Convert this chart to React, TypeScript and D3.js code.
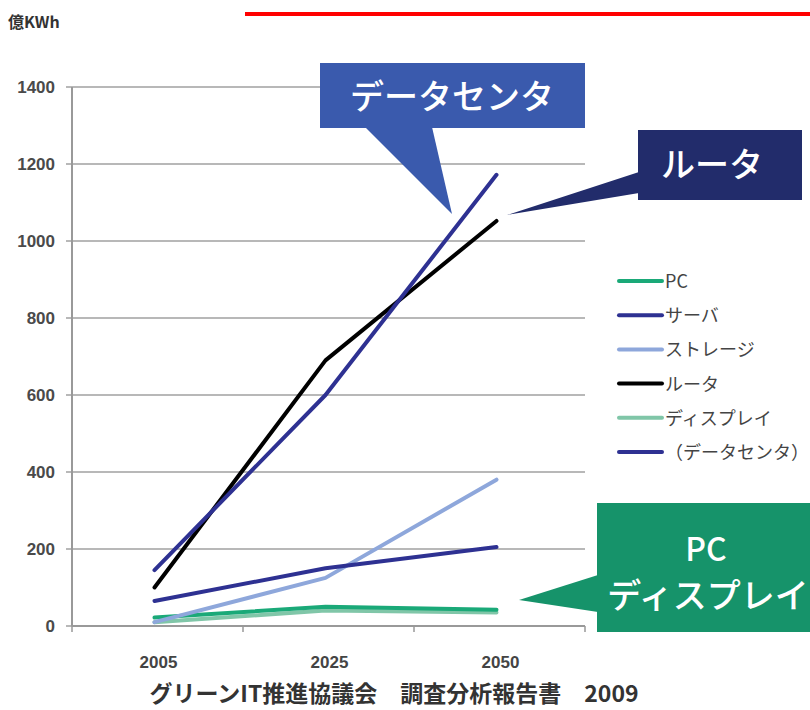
import React from "react";
import * as d3 from "d3";

const years = ["2005", "2025", "2050"];
const yTicks = [0, 200, 400, 600, 800, 1000, 1200, 1400];
const pcValues = [22, 50, 42];
const serverValues = [65, 150, 205];
const storageValues = [10, 125, 380];
const routerValues = [100, 690, 1052];
const displayValues = [10, 40, 35];
const dataCenterValues = [145, 600, 1172];
const seriesNames = ["PC", "サーバ", "ストレージ", "ルータ", "ディスプレイ", "（データセンタ）"];
const seriesColors = ["#1aa978", "#2e3192", "#8ea7db", "#000000", "#80c6a8", "#2e3192"];

export default function App() {
  const W = 810, H = 710;
  const x = d3.scaleBand<string>().domain(years).range([72, 585]);
  const y = d3.scaleLinear().domain([0, 1400]).range([626, 87]);
  const cx = (d: string) => (x(d) as number) + x.bandwidth() / 2;
  const line = d3.line<number>().x((_, i) => cx(years[i]) - 3).y((v) => y(v));
  const seriesData = [pcValues, serverValues, storageValues, routerValues, displayValues, dataCenterValues];
  const drawOrder = [4, 0, 2, 1, 3, 5];
  const nfont = "'Liberation Sans Narrow', 'Liberation Sans', sans-serif";
  const jfont = "'Noto Sans CJK JP', sans-serif";
  const tickXs = [72, ...years.slice(1).map((d) => x(d) as number), 585];
  return (
    <svg width={W} height={H} style={{ position: "absolute", left: 0, top: 0, background: "#fff" }}>
      <rect x={0} y={0} width={W} height={H} fill="#fff" />
      <rect x={245} y={12} width={565} height={4} fill="#ff0000" />
      <text x={8} y={28} fontFamily={jfont} fontSize={16} fontWeight={700} fill="#333">億KWh</text>
      {yTicks.map((t) => (
        <g key={t}>
          <line x1={66} x2={585} y1={y(t)} y2={y(t)} stroke="#a0a0a0" strokeWidth={1.5} />
          <text x={55} y={y(t) + 6} textAnchor="end" fontFamily={nfont} fontSize={17} fontWeight={700} fill="#4a4a4a">{t}</text>
        </g>
      ))}
      <line x1={72} x2={72} y1={87} y2={626} stroke="#999" strokeWidth={2} />
      <line x1={72} x2={585} y1={626} y2={626} stroke="#999" strokeWidth={2} />
      {tickXs.map((tx, i) => (
        <line key={i} x1={tx} x2={tx} y1={626} y2={632} stroke="#999" strokeWidth={1.5} />
      ))}
      {years.map((d) => (
        <text key={d} x={cx(d) + 1} y={668} textAnchor="middle" fontFamily={nfont} fontSize={17} fontWeight={700} fill="#444">{d}</text>
      ))}
      {drawOrder.map((i) => (
        <path key={i} d={line(seriesData[i]) || ""} fill="none" stroke={seriesColors[i]} strokeWidth={4} strokeLinecap="round" strokeLinejoin="round" />
      ))}
      {seriesNames.map((n, i) => {
        const ly = 281 + i * 34.2;
        return (
          <g key={n}>
            <line x1={619} x2={662} y1={ly} y2={ly} stroke={seriesColors[i]} strokeWidth={4} strokeLinecap="round" />
            <text x={665} y={ly + 7} fontFamily={jfont} fontSize={18} fill="#444">{n}</text>
          </g>
        );
      })}
      {/* データセンタ callout */}
      <polygon points="365,127 432,127 452,214" fill="#3a5aad" />
      <rect x={320} y={63} width={265} height={65} fill="#3a5aad" />
      <text x={452} y={109} textAnchor="middle" fontFamily={jfont} fontSize={34} fontWeight={500} fill="#fff">データセンタ</text>
      {/* ルータ callout */}
      <polygon points="639,172 639,193 507,215" fill="#222c6b" />
      <rect x={638} y={130} width={164} height={70} fill="#222c6b" />
      <text x={712} y={177} textAnchor="middle" fontFamily={jfont} fontSize={34} fontWeight={500} fill="#fff">ルータ</text>
      {/* PC ディスプレイ callout */}
      <polygon points="598,575 598,612 519,600" fill="#16936a" />
      <rect x={597} y={503} width={213} height={129} fill="#16936a" />
      <text x={706} y={561} textAnchor="middle" fontFamily={jfont} fontSize={32} fontWeight={500} fill="#fff">PC</text>
      <text x={708} y={608} textAnchor="middle" fontFamily={jfont} fontSize={34} fontWeight={500} fill="#fff">ディスプレイ</text>
      <text x={394} y={702} textAnchor="middle" fontFamily={jfont} fontSize={23} fontWeight={700} fill="#333">グリーンIT推進協議会　調査分析報告書　2009</text>
    </svg>
  );
}
